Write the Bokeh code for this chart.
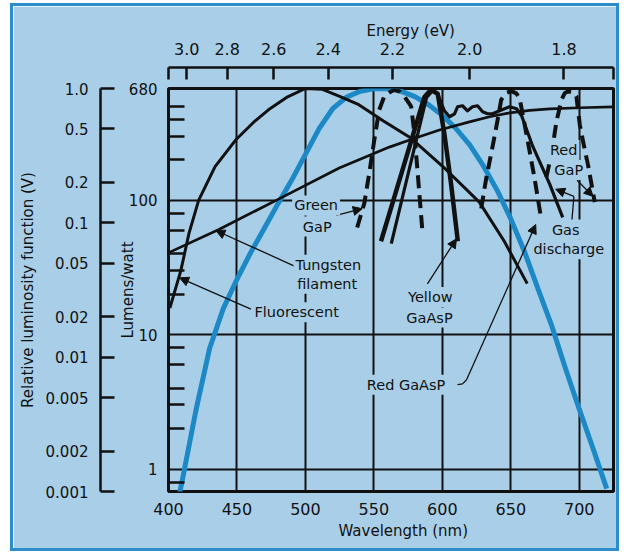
import math
from bokeh.plotting import figure
from bokeh.models import (Range1d, LogScale, LogAxis, LinearAxis, FixedTicker,
                          Label, Arrow, NormalHead, CustomJSTickFormatter, Title)
from bokeh.embed import file_html
from bokeh.resources import INLINE

# ---------------- data ----------------
# relative luminosity function V (blue curve)
lum_wl = [400, 410, 420, 430, 440, 450, 460, 470, 480, 490, 500, 510, 520, 530, 540,
          550, 555, 560, 570, 580, 590, 600, 610, 620, 630, 640, 650, 660, 670, 680,
          690, 700, 710, 720]
lum_v = [0.0004, 0.0012, 0.0040, 0.0116, 0.023, 0.038, 0.060, 0.091, 0.139, 0.208,
         0.323, 0.503, 0.710, 0.862, 0.954, 0.995, 1.0, 0.995, 0.952, 0.870, 0.757,
         0.631, 0.503, 0.381, 0.265, 0.175, 0.107, 0.061, 0.032, 0.017, 0.0082,
         0.0041, 0.0021, 0.00105]

# Fluorescent (lumens/watt)
fluor_wl = [401, 409, 415, 422, 434, 449, 462, 473, 487, 500, 512, 525, 539, 557,
            577, 600, 627, 645, 662]
fluor_lm = [15.8, 30, 57, 100, 178, 281, 380, 472, 590, 680, 672, 594, 515, 390,
            291, 180, 97, 50, 24]

# Tungsten filament
tung_wl = [400.2, 436.8, 478.6, 524.7, 561.3, 578.2, 597.9, 619.8, 634.5, 649.1,
           663.8, 678.4, 700.4, 724.6]
tung_lm = [40.8, 60.6, 100, 174, 249, 286, 334, 384, 419, 448, 468, 480, 489, 497]

# Green GaP (dashed)
green_wl = [537.8, 543, 546.6, 550.3, 553.9, 557.5, 561.3, 565, 569, 572.2, 577.2,
            579.6, 582, 585.6]
green_lm = [62.8, 95, 159, 281, 472, 591, 634, 667, 644, 594, 500, 316, 159, 56.3]

# Yellow GaAsP (solid)
yellow_wl = [555.2, 570.8, 586.9, 590.5, 592.9, 596.6, 601.5, 606.4, 611.3]
yellow_lm = [49.6, 167, 588, 645, 654, 622, 312, 132, 49.6]

# Gas discharge (solid, wavy)
gas_wl = [562.7, 588.4, 592.8, 596.5, 601.5, 605.2, 608.9, 611.1, 614.7, 618.4,
          622.0, 625.7, 629.4, 633.0, 636.7, 641.8, 649.1, 654.3, 657.9, 665.9,
          678.4, 687.9]
gas_lm = [47.6, 580, 655, 622, 464, 419, 441, 497, 506, 464, 497, 506, 456, 441,
          441, 464, 497, 480, 426, 254, 132, 74.6]

# Red GaAsP (dashed)
red_gaasp_wl = [628.4, 632, 636.9, 640.6, 643.0, 646.5, 650.4, 654.0, 656.4, 659.0,
                663.8, 667.4, 671.8]
red_gaasp_lm = [87, 145, 258, 409, 561, 630, 650, 625, 579, 420, 230, 145, 77]

# Red GaP (dashed)
red_gap_wl = [676, 680, 683.3, 687, 689.5, 691.8, 695, 697.9, 700.4, 702.8, 706.4,
              711.3]
red_gap_lm = [149, 229, 385, 560, 630, 647, 640, 595, 365, 273, 183, 97]

# axes
wl_ticks = [400, 450, 500, 550, 600, 650, 700]
wl_grid = [450, 500, 550, 600, 650, 700]
lm_major = [1, 10, 100, 680]
lm_minor = [0.8, 2, 3, 4, 6, 8, 20, 30, 40, 60, 80, 200, 300, 400, 500]
lm_grid = [1, 10, 100]
v_ticks = [1.0, 0.5, 0.2, 0.1, 0.05, 0.02, 0.01, 0.005, 0.002, 0.001]
v_labels = ["1.0", "0.5", "0.2", "0.1", "0.05", "0.02", "0.01", "0.005", "0.002", "0.001"]
energy_ev = [3.0, 2.8, 2.6, 2.4, 2.2, 2.0, 1.8]
energy_labels = ["3.0", "2.8", "2.6", "2.4", "2.2", "2.0", "1.8"]
HC = 1239.84  # eV*nm
energy_wl = [HC / e for e in energy_ev]

# ---------------- style ----------------
BG = "#a9cfe8"
BLUE = "#1c88c6"
INK = "#111111"
FONT = "DejaVu Sans"
X0, X1 = 400, 725
Y0, Y1 = 0.68, 680

p = figure(width=609, height=548, x_range=Range1d(X0, X1), y_range=Range1d(Y0, Y1),
           y_axis_type="log", output_backend="svg", toolbar_location=None,
           min_border_left=155, min_border_right=9, min_border_top=82,
           min_border_bottom=63, background_fill_color=BG, border_fill_color=BG,
           outline_line_color=INK, outline_line_width=3)
p.styles = {"border": "3px solid #2b8dcc", "margin": "3px 0px 0px 10px"}

p.extra_y_ranges = {"V": Range1d(0.001, 1.0)}
p.extra_y_scales = {"V": LogScale()}

# grids
p.xgrid.ticker = FixedTicker(ticks=wl_grid)
p.ygrid.ticker = FixedTicker(ticks=lm_grid)
for g in (p.xgrid[0], p.ygrid[0]):
    g.grid_line_color = INK
    g.grid_line_width = 2
    g.grid_line_alpha = 1

def fmt(tvals, tlabels):
    return CustomJSTickFormatter(args=dict(tvals=tvals, tlabels=tlabels), code="""
        for (let i = 0; i < tvals.length; i++) {
            if (Math.abs(tvals[i] - tick) < 1e-6 * Math.max(1, Math.abs(tick))) return tlabels[i];
        }
        return '';
    """)

def spacer_axis(size_px, standoff):
    return LinearAxis(ticker=FixedTicker(ticks=[], minor_ticks=[]), axis_line_color=None,
                      major_tick_line_color=None, minor_tick_line_color=None,
                      major_tick_out=0, major_tick_in=0, minor_tick_out=0, minor_tick_in=0,
                      major_label_text_font_size="0px", major_label_standoff=0,
                      axis_label=" ", axis_label_text_font=FONT,
                      axis_label_text_font_size=size_px, axis_label_standoff=standoff,
                      axis_label_text_alpha=0)

# bottom axis
xa = p.xaxis[0]
xa.ticker = FixedTicker(ticks=wl_ticks)
xa.formatter = fmt(wl_ticks, [str(t) for t in wl_ticks])
xa.major_tick_in = 0
xa.major_tick_out = 0
xa.minor_tick_in = 0
xa.minor_tick_out = 0
xa.axis_line_color = None
xa.major_label_standoff = 11
xa.major_label_text_font = FONT
xa.major_label_text_font_size = "16px"
xa.major_label_text_color = INK

# lumens/watt axis
ya = p.yaxis[0]
ya.ticker = FixedTicker(ticks=lm_major, minor_ticks=lm_minor)
ya.formatter = fmt(lm_major, [str(t) for t in lm_major])
ya.major_tick_in = 0
ya.major_tick_out = 0
ya.minor_tick_in = 16
ya.minor_tick_out = 0
ya.minor_tick_line_color = INK
ya.minor_tick_line_width = 2.5
ya.axis_line_color = None
ya.major_label_standoff = 11
ya.major_label_text_font = FONT
ya.major_label_text_font_size = "15px"
ya.major_label_text_color = INK
ya.axis_label = "Lumens/watt"
ya.axis_label_standoff = -11
ya.axis_label_text_font = FONT
ya.axis_label_text_font_size = "15px"
ya.axis_label_text_font_style = "normal"
ya.axis_label_text_color = INK

# gap between the two left scales
p.add_layout(spacer_axis("15px", -6), "left")

# relative luminosity axis
va = LogAxis(y_range_name="V", ticker=FixedTicker(ticks=v_ticks, minor_ticks=[]),
             formatter=fmt(v_ticks, v_labels))
va.major_tick_in = 14
va.major_tick_out = 0
va.minor_tick_in = 0
va.minor_tick_out = 0
va.major_tick_line_width = 2.5
va.major_tick_line_color = INK
va.axis_line_width = 2.5
va.axis_line_color = INK
va.major_label_standoff = 12
va.major_label_text_font = FONT
va.major_label_text_font_size = "15px"
va.major_label_text_color = INK
va.axis_label = "Relative luminosity function (V)"
va.axis_label_standoff = 6
va.axis_label_text_font = FONT
va.axis_label_text_font_size = "15px"
va.axis_label_text_font_style = "normal"
va.axis_label_text_color = INK
p.add_layout(va, "left")

# top: gap + energy axis + title
p.add_layout(spacer_axis("15px", 0), "above")

e_ticks = energy_wl + [X0, X1]
ea = LinearAxis(ticker=FixedTicker(ticks=e_ticks, minor_ticks=[]),
                formatter=fmt(energy_wl, energy_labels))
ea.major_tick_in = 12
ea.major_tick_out = 0
ea.minor_tick_in = 0
ea.minor_tick_out = 0
ea.major_tick_line_width = 2.5
ea.major_tick_line_color = INK
ea.axis_line_width = 2.5
ea.axis_line_color = INK
ea.major_label_standoff = 13
ea.major_label_text_font = FONT
ea.major_label_text_font_size = "16px"
ea.major_label_text_color = INK
p.add_layout(ea, "above")

p.add_layout(Title(text="Energy (eV)", align="left", offset=198, standoff=0,
                   text_font=FONT, text_font_size="15px", text_font_style="normal",
                   text_color=INK), "above")
p.add_layout(Title(text="Wavelength (nm)", align="left", offset=170, standoff=5,
                   text_font=FONT, text_font_size="15px", text_font_style="normal",
                   text_color=INK), "below")

# ---------------- curves ----------------
p.line(lum_wl, lum_v, y_range_name="V", line_color=BLUE, line_width=5)
p.line(fluor_wl, fluor_lm, line_color=INK, line_width=3)
p.line(tung_wl, tung_lm, line_color=INK, line_width=2.7)
p.line(gas_wl, gas_lm, line_color=INK, line_width=3.2, line_join="round")
p.line(yellow_wl, yellow_lm, line_color=INK, line_width=4.5, line_join="round")
for wl, lm in ((green_wl, green_lm), (red_gaasp_wl, red_gaasp_lm), (red_gap_wl, red_gap_lm)):
    p.line(wl, lm, line_color=INK, line_width=4, line_dash="13 7", line_join="round")

# ---------------- annotations ----------------
def lab(text, x, y, size="14.5px", **kw):
    p.add_layout(Label(x=x, y=y, text=text, text_font=FONT, text_font_size=size,
                       text_color=INK, text_align="center", text_baseline="middle",
                       background_fill_color=BG, padding=2, **kw))

def arrow(x0, y0, x1, y1):
    p.add_layout(Arrow(end=NormalHead(size=9, fill_color=INK, line_color=INK),
                       x_start=x0, y_start=y0, x_end=x1, y_end=y1,
                       line_color=INK, line_width=1.3))

# leader lines
arrow(460.2, 15.5, 408.1, 26.5)      # Fluorescent
arrow(493.2, 32.0, 434.6, 59.6)      # Tungsten
arrow(522.5, 77.2, 541.5, 86.7)      # Green GaP
arrow(589.1, 23.9, 610.3, 51.7)      # Yellow GaAsP
p.line([611.1, 614.7, 617.6], [4.24, 4.3, 4.6], line_color=INK, line_width=1.3)
arrow(617.6, 4.6, 668.2, 66.1)       # Red GaAsP
p.line([694.6, 696.1], [70.8, 107], line_color=INK, line_width=1.3)
arrow(696.1, 107, 682.8, 121)        # Gas discharge
arrow(698.4, 141, 710.1, 107)        # Red GaP

lab("Green", 507.8, 91.7)
lab("GaP", 508.6, 63.8)
lab("Tungsten", 516.7, 33.2)
lab("filament", 515.9, 23.9)
lab("Fluorescent", 493.6, 14.7)
lab("Yellow", 591.2, 19.1)
lab("GaAsP", 590.6, 13.4)
lab("Red  GaAsP", 575.2, 4.24)
lab("Red", 688.6, 237)
lab("GaP", 692.3, 168)
lab("Gas", 690.1, 60.6)
lab("discharge", 692.3, 43.3)

open("out.html", "w").write(file_html(p, INLINE))
